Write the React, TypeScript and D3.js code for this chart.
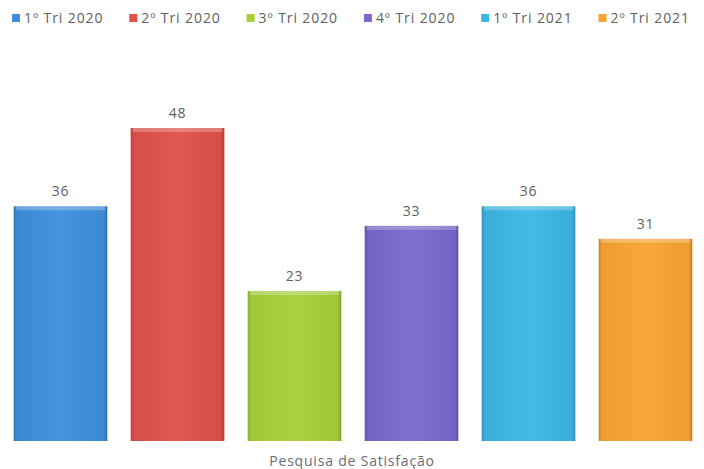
import React from "react";
import * as d3 from "d3";

const categories = ["1º Tri 2020", "2º Tri 2020", "3º Tri 2020", "4º Tri 2020", "1º Tri 2021", "2º Tri 2021"];
const values = [36, 48, 23, 33, 36, 31];
const colors = ["#3d8fdc", "#e0514a", "#a6d038", "#7a68cc", "#3cb6e4", "#f8a331"];
const axisTitle = "Pesquisa de Satisfação";

const W = 704;
const H = 469;
const FONT = "'Open Sans', 'DejaVu Sans', sans-serif";

export default function App() {
  const x = d3.scaleBand<string>().domain(categories).range([2, 704]).paddingInner(0.2).paddingOuter(0.1);
  const y = d3.scaleLinear().domain([0, 50]).range([441, 115]);
  const bw = x.bandwidth();

  return (
    <svg width={W} height={H} style={{ position: "absolute", left: 0, top: 0, background: "#fff" }}>
      <defs>
        <linearGradient id="edge" x1="0" x2="1" y1="0" y2="0">
          <stop offset="0" stopColor="#000" stopOpacity={0.18} />
          <stop offset="0.04" stopColor="#000" stopOpacity={0.04} />
          <stop offset="0.5" stopColor="#fff" stopOpacity={0.05} />
          <stop offset="0.96" stopColor="#000" stopOpacity={0.04} />
          <stop offset="1" stopColor="#000" stopOpacity={0.22} />
        </linearGradient>
      </defs>
      {/* legend */}
      {categories.map((c, i) => {
        const lx = 12 + i * 117.3;
        return (
          <g key={"lg" + i}>
            <rect x={lx} y={14} width={8} height={8} fill={colors[i]} />
            <text x={lx + 12} y={23} fontFamily={FONT} fontSize={14} letterSpacing={0.9} fill="#606060">
              {c}
            </text>
          </g>
        );
      })}
      {/* bars */}
      {categories.map((c, i) => {
        const bx = x(c)!;
        const by = y(values[i]);
        const bh = y(0) - by;
        return (
          <g key={"b" + i}>
            <rect x={bx} y={by} width={bw} height={bh} fill={colors[i]} />
            <rect x={bx} y={by} width={bw} height={bh} fill="url(#edge)" />
            <rect x={bx + 2} y={by} width={bw - 4} height={4} fill="#fff" opacity={0.25} />
            <text
              x={bx + bw / 2}
              y={by - 10}
              textAnchor="middle"
              fontFamily={FONT}
              fontSize={14}
              letterSpacing={0.8}
              fill="#606060"
            >
              {values[i]}
            </text>
          </g>
        );
      })}
      <text x={352} y={466} textAnchor="middle" fontFamily={FONT} fontSize={14} letterSpacing={0.8} fill="#6a6a7a">
        {axisTitle}
      </text>
    </svg>
  );
}
